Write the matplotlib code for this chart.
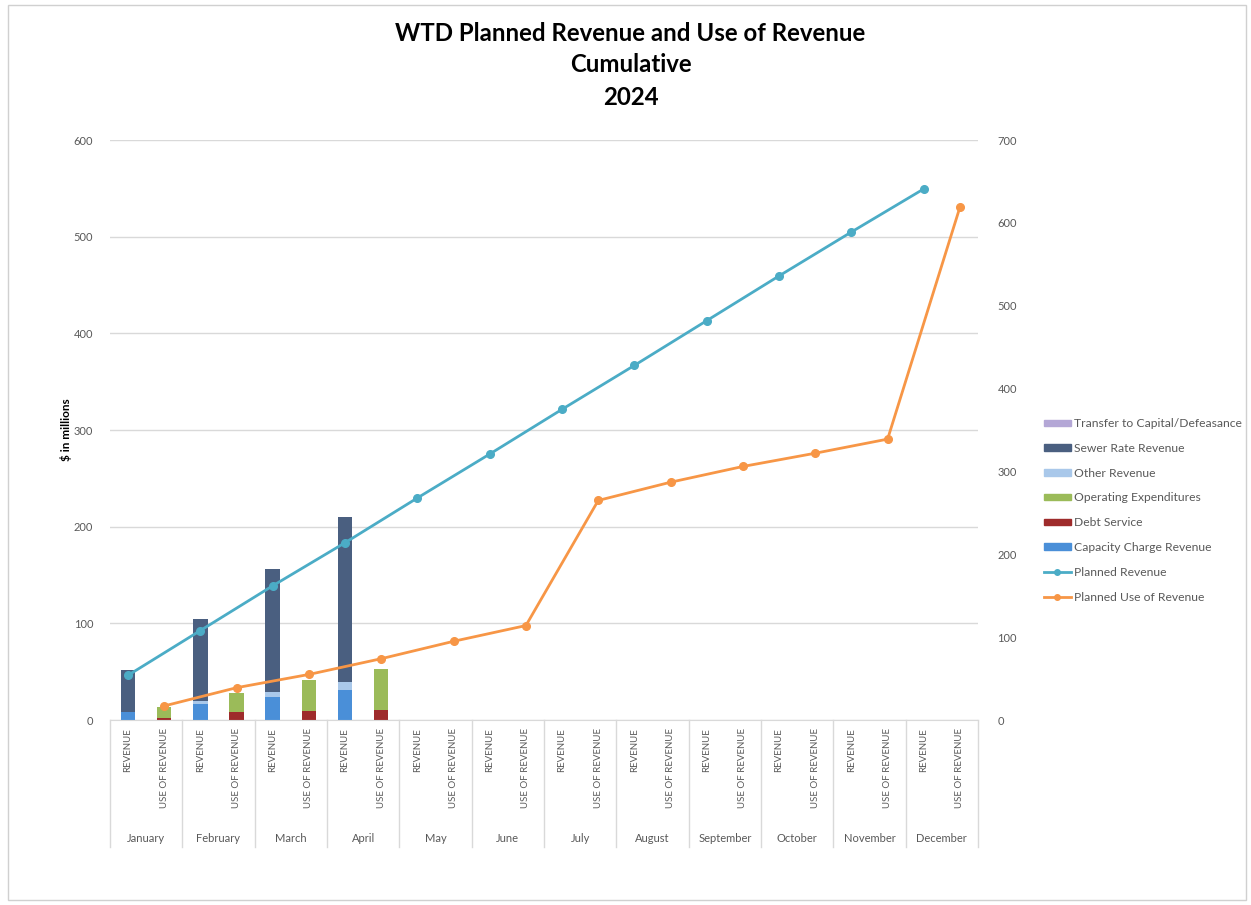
import matplotlib
matplotlib.use("Agg")
import matplotlib.pyplot as plt
import numpy as np
from matplotlib.patches import Patch, Rectangle
from matplotlib.lines import Line2D
from matplotlib.transforms import blended_transform_factory

plt.rcParams['font.family'] = ['Lato', 'DejaVu Sans']

months = ["January", "February", "March", "April", "May", "June", "July",
          "August", "September", "October", "November", "December"]
sub_labels = ["REVENUE", "USE OF REVENUE"]

# Revenue bars (cumulative, $ millions), Jan-Apr actuals
capacity_charge = [8.0, 16.5, 23.4, 31.3]
other_revenue = [0.5, 2.7, 5.8, 8.3]
sewer_rate = [43.6, 85.0, 126.8, 170.0]
# Use of revenue bars
debt_service = [2.5, 8.0, 9.0, 10.0]
operating_exp = [11.0, 19.5, 32.6, 42.7]
transfer_capital = [0.0, 0.0, 0.0, 0.0]

# Planned lines (secondary axis)
planned_revenue = [54, 108, 162, 214, 268, 321, 375, 428, 482, 536, 589, 641]
planned_use = [17, 39, 55, 74, 95, 114, 265, 287, 306, 322, 339, 619]

c_sewer = "#4A5F80"
c_cap = "#4A8FD8"
c_other = "#A9C8EA"
c_op = "#9BBB59"
c_debt = "#9E2B2B"
c_transfer = "#B4A7D6"
c_blue = "#4BACC6"
c_orange = "#F79646"
grey_txt = "#595959"
grid_c = "#D9D9D9"

fig = plt.figure(figsize=(12.51, 9.05), dpi=100)
fig.patches.append(Rectangle((0.006, 0.005), 0.99, 0.99, transform=fig.transFigure,
                             fill=False, edgecolor="#D0D0D0", lw=1))
ax = fig.add_axes([0.0879, 0.2044, 0.6939, 0.6409])
ax2 = ax.twinx()

n = len(months)
rev_x = np.arange(n)[:len(sewer_rate)] * 2
use_x = rev_x + 1
w = 0.4

cap = np.array(capacity_charge)
oth = np.array(other_revenue)
sew = np.array(sewer_rate)
dbt = np.array(debt_service)
opx = np.array(operating_exp)
trf = np.array(transfer_capital)

ax.bar(rev_x, cap, w, color=c_cap, zorder=2)
ax.bar(rev_x, oth, w, bottom=cap, color=c_other, zorder=2)
ax.bar(rev_x, sew, w, bottom=cap + oth, color=c_sewer, zorder=2)
ax.bar(use_x, dbt, w, color=c_debt, zorder=2)
ax.bar(use_x, opx, w, bottom=dbt, color=c_op, zorder=2)
ax.bar(use_x, trf, w, bottom=dbt + opx, color=c_transfer, zorder=2)

ax.set_xlim(-0.5, 2 * n - 0.5)
ax.set_ylim(0, 600)
ax.set_yticks(np.arange(0, 601, 100))
ax.yaxis.grid(True, color=grid_c, lw=1)
ax.set_axisbelow(True)
ax.tick_params(axis='y', length=0, labelsize=8, labelcolor=grey_txt, pad=12)
ax.set_xticks([])
for s in ["top", "right", "left"]:
    ax.spines[s].set_visible(False)
ax.spines["bottom"].set_color(grid_c)
ax.set_ylabel("$ in millions", fontsize=8.5, fontweight="bold", labelpad=1)

ax2.set_ylim(0, 700)
ax2.set_yticks(np.arange(0, 701, 100))
ax2.tick_params(axis='y', length=0, labelsize=8, labelcolor=grey_txt, pad=14)
for s in ["top", "right", "left", "bottom"]:
    ax2.spines[s].set_visible(False)
ax2.plot(np.arange(n) * 2, planned_revenue, color=c_blue, lw=2, marker="o", ms=5.5, zorder=3)
ax2.plot(np.arange(n) * 2 + 1, planned_use, color=c_orange, lw=2, marker="o", ms=5.5, zorder=3)

# two-level category axis
tr = blended_transform_factory(ax.transData, ax.transAxes)
bottom_y = -(847 - 720) / 580.0
for b in np.arange(n + 1) * 2 - 0.5:
    ax.plot([b, b], [0, bottom_y], transform=tr, color=grid_c, lw=1, clip_on=False)
for i, m in enumerate(months):
    for j, lab in enumerate(sub_labels):
        ax.text(2 * i + j, -8 / 580.0, lab, transform=tr, rotation=90, ha="center",
                va="top", fontsize=7, color=grey_txt)
    ax.text(2 * i + 0.5, -(838 - 720) / 580.0, m, transform=tr, ha="center",
            va="center", fontsize=8, color=grey_txt)

fig.text(0.504, 0.963, "WTD Planned Revenue and Use of Revenue", ha="center", va="center",
         fontsize=17.3, fontweight="bold")
fig.text(0.504, 0.929, "Cumulative", ha="center", va="center", fontsize=17.3, fontweight="bold")
fig.text(0.504, 0.892, "2024", ha="center", va="center", fontsize=17.3, fontweight="bold")

handles = [
    Patch(color=c_transfer, label="Transfer to Capital/Defeasance"),
    Patch(color=c_sewer, label="Sewer Rate Revenue"),
    Patch(color=c_other, label="Other Revenue"),
    Patch(color=c_op, label="Operating Expenditures"),
    Patch(color=c_debt, label="Debt Service"),
    Patch(color=c_cap, label="Capacity Charge Revenue"),
    Line2D([], [], color=c_blue, lw=2, marker="o", ms=4, label="Planned Revenue"),
    Line2D([], [], color=c_orange, lw=2, marker="o", ms=4, label="Planned Use of Revenue"),
]
leg = fig.legend(handles=handles, loc="upper left", bbox_to_anchor=(0.826, 0.550),
                 frameon=False, fontsize=8.7, labelcolor=grey_txt, handlelength=2.2,
                 handleheight=0.45, handletextpad=0.3, labelspacing=1.14)

fig.savefig("out.png", dpi=100)
